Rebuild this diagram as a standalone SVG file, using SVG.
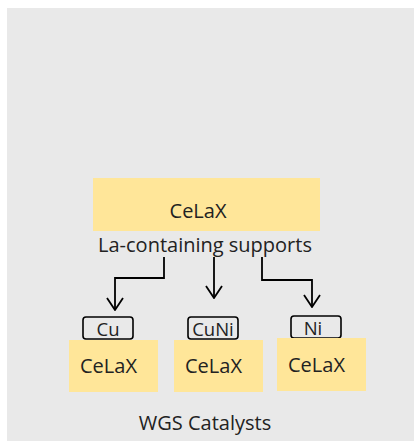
<svg xmlns="http://www.w3.org/2000/svg" width="414" height="441" viewBox="0 0 414 441">
  <defs>
    <style>
      .bg { fill: #e9e9e9; }
      .slab { fill: #ffe699; }
      .tag { fill: none; stroke: #000; stroke-width: 1.6; }
      .lbl { font-family: "Open Sans", "Liberation Sans", sans-serif; fill: #222; }
      .big { font-size: 20px; }
      .mid { font-size: 20px; }
      .small { font-size: 18.5px; }
      .link { fill: none; stroke: #000; stroke-width: 1.8; }
    </style>
    <marker id="open-arrow" viewBox="0 0 14 18" refX="13" refY="9" markerWidth="14" markerHeight="18" markerUnits="userSpaceOnUse" orient="auto">
      <path d="M1,1 L13,9 L1,17" fill="none" stroke="#000" stroke-width="1.8"/>
    </marker>
  </defs>

  <rect class="bg" x="7" y="8" width="407" height="433"/>

  <!-- support -->
  <g id="support">
    <rect class="slab" x="93" y="178" width="227" height="53"/>
    <text class="lbl big" x="198" y="218" text-anchor="middle">CeLaX</text>
    <text class="lbl mid" x="205" y="252" text-anchor="middle">La-containing supports</text>
  </g>

  <!-- connectors -->
  <g id="connectors">
    <polyline class="link" points="164,257 164,278 115,278 115,310" marker-end="url(#open-arrow)"/>
    <polyline class="link" points="214,257 214,298" marker-end="url(#open-arrow)"/>
    <polyline class="link" points="262,257 262,280 312,280 312,307" marker-end="url(#open-arrow)"/>
  </g>

  <!-- catalysts -->
  <g id="cat-cu">
    <rect class="tag" x="83" y="317" width="50" height="22" rx="3"/>
    <text class="lbl small" x="108" y="336" text-anchor="middle">Cu</text>
    <rect class="slab" x="69" y="340" width="89" height="52"/>
    <text class="lbl big" x="80" y="373">CeLaX</text>
  </g>
  <g id="cat-cuni">
    <rect class="tag" x="188" y="317" width="50" height="22" rx="3"/>
    <text class="lbl small" x="213" y="336" text-anchor="middle">CuNi</text>
    <rect class="slab" x="174" y="340" width="89" height="52"/>
    <text class="lbl big" x="185" y="373">CeLaX</text>
  </g>
  <g id="cat-ni">
    <rect class="tag" x="291" y="316" width="50" height="22" rx="3"/>
    <text class="lbl small" x="313" y="335" text-anchor="middle">Ni</text>
    <rect class="slab" x="277" y="338" width="89" height="53"/>
    <text class="lbl big" x="288" y="372">CeLaX</text>
  </g>

  <text class="lbl mid" x="205" y="430" text-anchor="middle">WGS Catalysts</text>
</svg>
